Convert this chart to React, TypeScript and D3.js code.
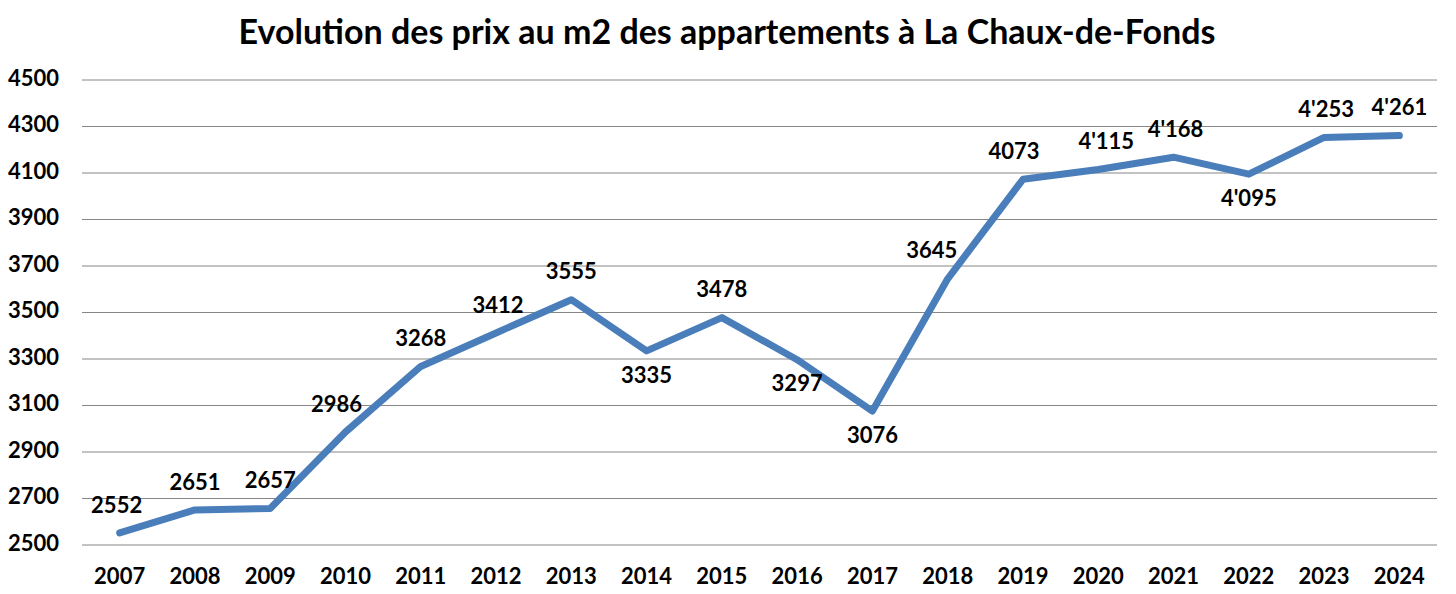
import { useMemo } from "react";
import { scaleBand, scaleLinear, line } from "d3";

const years = [
  "2007", "2008", "2009", "2010", "2011", "2012", "2013", "2014", "2015",
  "2016", "2017", "2018", "2019", "2020", "2021", "2022", "2023", "2024",
];
const prices = [
  2552, 2651, 2657, 2986, 3268, 3412, 3555, 3335, 3478,
  3297, 3076, 3645, 4073, 4115, 4168, 4095, 4253, 4261,
];
const priceLabels = [
  "2552", "2651", "2657", "2986", "3268", "3412", "3555", "3335", "3478",
  "3297", "3076", "3645", "4073", "4'115", "4'168", "4'095", "4'253", "4'261",
];
const yTicks = [2500, 2700, 2900, 3100, 3300, 3500, 3700, 3900, 4100, 4300, 4500];

// label placement: +1 above the point, -1 below; dx nudges (px)
const labelSide = [1, 1, 1, 1, 1, 1, 1, -1, 1, -1, -1, 1, 1, 1, 1, -1, 1, 1];
const labelDx = [-3, 0, 0, -9, 0, 2, 0, 0, 0, 0, 0, -16, -9, 8, 2, 0, 2, 0];

const W = 1456;
const H = 594;
const FONT = "Lato, 'Open Sans', sans-serif";

export default function App() {
  const x = useMemo(
    () => scaleBand<string>().domain(years).range([82, 1437]),
    []
  );
  const y = useMemo(
    () => scaleLinear().domain([2500, 4500]).range([545, 80]),
    []
  );

  const cx = (i: number) => (x(years[i]) ?? 0) + x.bandwidth() / 2;

  const path =
    line<number>()
      .x((_, i) => cx(i))
      .y((d) => y(d))(prices) ?? "";

  return (
    <svg
      width={W}
      height={H}
      style={{ position: "absolute", left: 0, top: 0, background: "#fff" }}
      fontFamily={FONT}
      fontWeight={700}
    >
      <text x={727} y={35} textAnchor="middle" dominantBaseline="middle" fontSize={34} fill="#000">
        Evolution des prix au m2 des appartements à La Chaux-de-Fonds
      </text>

      {yTicks.map((t) => (
        <g key={t}>
          <line x1={82} x2={1437} y1={y(t)} y2={y(t)} stroke="#868686" strokeWidth={1} />
          <text x={8} y={y(t)} dominantBaseline="middle" fontSize={22} fill="#000">
            {t}
          </text>
        </g>
      ))}

      {years.map((yr, i) => (
        <text key={yr} x={cx(i)} y={578} textAnchor="middle" dominantBaseline="middle" fontSize={22} fill="#000">
          {yr}
        </text>
      ))}

      <path
        d={path}
        fill="none"
        stroke="#4a7ebb"
        strokeWidth={7}
        strokeLinejoin="round"
        strokeLinecap="round"
      />

      {prices.map((p, i) => (
        <text
          key={i}
          x={cx(i) + labelDx[i]}
          y={y(p) - labelSide[i] * 26}
          textAnchor="middle"
          dominantBaseline="middle"
          fontSize={22}
          fill="#000"
        >
          {priceLabels[i]}
        </text>
      ))}
    </svg>
  );
}
